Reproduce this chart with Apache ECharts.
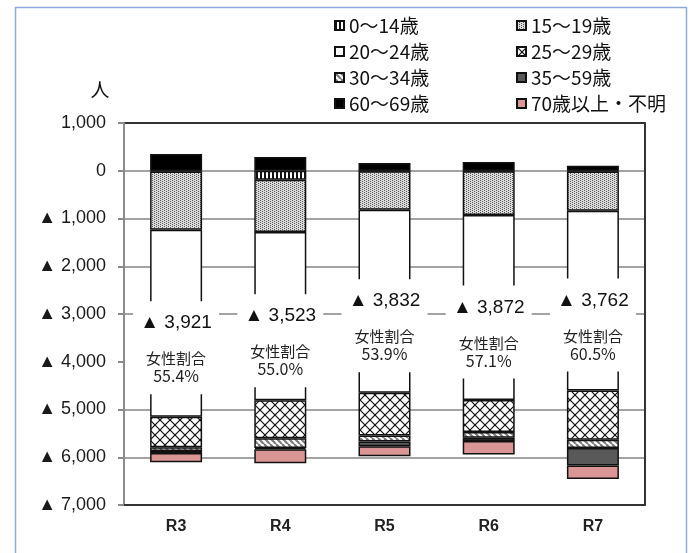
<!DOCTYPE html>
<html>
<head>
<meta charset="utf-8">
<script src="https://cdn.jsdelivr.net/npm/echarts@6/dist/echarts.min.js"></script>
<style>
html, body { margin: 0; padding: 0; background: #fff; }
#chart { width: 694px; height: 553px; }
</style>
</head>
<body>
<div id="chart"></div>
<script>
// Fiscal years and counts per age group (negative = decrease, shown with ▲)
const years = ['R3', 'R4', 'R5', 'R6', 'R7'];
const age0to14 = [-15, -190, -10, -10, -15];
const age15to19 = [-1218, -1095, -807, -918, -823];
const age20to24 = [-3921, -3523, -3832, -3872, -3762];
const age25to29 = [-636, -796, -894, -670, -1033];
const age30to34 = [-80, -200, -126, -120, -175];
const age35to59 = [-40, -30, -100, -70, -363];
const age60to69 = [350, 287, 160, 182, 105];
const age70plus = [-195, -293, -210, -280, -287];
const femaleRatio = [55.4, 55.0, 53.9, 57.1, 60.5];
const axisMin = -7000, axisMax = 1000, axisStep = 1000;

const seriesNames = ['0～14歳', '15～19歳', '20～24歳', '25～29歳', '30～34歳', '35～59歳', '60～69歳', '70歳以上・不明'];

const fmt = n => String(Math.round(n)).replace(/\B(?=(\d{3})+(?!\d))/g, ',');
const signed = v => v < 0 ? '▲ ' + fmt(-v) : fmt(v);

// small repeating fills for the hatched groups
function tile(w, h, draw, bg) {
  const c = document.createElement('canvas');
  c.width = w; c.height = h;
  const ctx = c.getContext('2d');
  ctx.fillStyle = bg || '#fff';
  ctx.fillRect(0, 0, w, h);
  draw(ctx, w, h);
  return { image: c, repeat: 'repeat' };
}
const fillStripesV = tile(4, 4, (ctx, w, h) => { ctx.fillStyle = '#111'; ctx.fillRect(0, 0, 2, h); });
const fillDots = tile(4, 4, ctx => {
  ctx.fillStyle = '#555';
  [[0, 0], [2, 1], [0, 2], [2, 3]].forEach(([x, y]) => ctx.fillRect(x, y, 1, 1));
}, '#dcdcdc');
const fillCross = tile(10, 10, (ctx, w) => {
  ctx.strokeStyle = '#111'; ctx.lineWidth = 1.2;
  [-w, 0, w].forEach(o => {
    ctx.beginPath(); ctx.moveTo(o, 0); ctx.lineTo(o + w, w); ctx.stroke();
    ctx.beginPath(); ctx.moveTo(o + w, 0); ctx.lineTo(o, w); ctx.stroke();
  });
});
const fillDiag = tile(6, 6, (ctx, w) => {
  ctx.strokeStyle = '#7a7a7a'; ctx.lineWidth = 2.2;
  [-w, 0, w].forEach(o => { ctx.beginPath(); ctx.moveTo(o, 0); ctx.lineTo(o + w, w); ctx.stroke(); });
});

const fills = [fillStripesV, fillDots, '#ffffff', fillCross, fillDiag, '#595959', '#000000', '#d99694'];
const values = [age0to14, age15to19, age20to24, age25to29, age30to34, age35to59, age60to69, age70plus];

const jp = "'Noto Sans CJK JP', sans-serif";
const latin = "'Liberation Sans', 'Noto Sans CJK JP', sans-serif";

// one white boxed text line of the given height; the white border closes seams
const boxed = (h, extra) => Object.assign({
  width: 92, height: h, lineHeight: h, align: 'center',
  backgroundColor: '#fff', borderColor: '#fff', borderWidth: 1,
  color: '#222', fontFamily: jp
}, extra);

const series = seriesNames.map((name, k) => {
  const s = {
    name, type: 'bar', stack: 'total', barWidth: 52,
    data: values[k],
    itemStyle: { color: fills[k], borderColor: '#111', borderWidth: 1.5 },
    emphasis: { disabled: true }
  };
  if (k === 2) {
    // value of the 20-24 group plus the female share underneath, on a white box
    s.label = {
      show: true, position: 'inside', verticalAlign: 'top', offset: [0, -21],
      formatter: p => [
        `{v|${signed(p.value)}}`,
        '{gap| }',
        '{h|女性割合}',
        `{p|${femaleRatio[p.dataIndex].toFixed(1)}%}`,
        '{tail| }'
      ].join('\n'),
      rich: {
        v: boxed(42, { fontSize: 19, width: 84, color: '#111', fontFamily: latin }),
        gap: boxed(6, { fontSize: 6 }),
        h: boxed(17, { fontSize: 15 }),
        p: boxed(18, { fontSize: 16 }),
        tail: boxed(8, { fontSize: 6 })
      }
    };
  }
  return s;
});

const gridGray = '#a3a3a3';
const splitColors = [];
for (let v = axisMin; v <= axisMax; v += axisStep) {
  if (v === axisMin || v === axisMax) splitColors.push('#333');
  else if (v === -4000) splitColors.push('rgba(0,0,0,0)');
  else splitColors.push(gridGray);
}

const legendBase = {
  orient: 'vertical', top: 11, itemWidth: 9, itemHeight: 9, itemGap: 7, icon: 'rect',
  selectedMode: false, textStyle: { fontSize: 19, color: '#111', fontFamily: jp }
};

const chart = echarts.init(document.getElementById('chart'), null, { renderer: 'canvas' });
chart.setOption({
  animation: false,
  textStyle: { fontFamily: latin },
  grid: { left: 124, right: 49, top: 123, bottom: 48 },
  legend: [
    Object.assign({}, legendBase, { left: 329, data: [seriesNames[0], seriesNames[2], seriesNames[4], seriesNames[6]] }),
    Object.assign({}, legendBase, { left: 511, data: [seriesNames[1], seriesNames[3], seriesNames[5], seriesNames[7]] })
  ],
  xAxis: [{
    type: 'category', data: years, position: 'bottom',
    axisLine: { show: true, onZero: false, lineStyle: { color: '#333', width: 2 } },
    axisTick: { show: false },
    axisLabel: { margin: 14, fontSize: 16, fontWeight: 'bold', color: '#222' }
  }],
  yAxis: [{
    type: 'value', min: axisMin, max: axisMax, interval: axisStep,
    name: '人', nameLocation: 'end', nameGap: 24,
    nameTextStyle: { fontSize: 19, color: '#111', fontFamily: jp, padding: [0, 48, 0, 0] },
    axisLine: { show: true, lineStyle: { color: '#8c8c8c', width: 2 } },
    axisTick: { show: true, length: 6, lineStyle: { color: '#8c8c8c', width: 2 } },
    axisLabel: { margin: 18, fontSize: 18, color: '#1a1a1a', formatter: signed },
    splitLine: { show: true, lineStyle: { color: splitColors, width: 2 } }
  }, {
    type: 'value', min: axisMin, max: axisMax, interval: axisStep, position: 'right',
    axisLine: { show: true, lineStyle: { color: '#333', width: 2 } },
    axisTick: { show: false }, axisLabel: { show: false }, splitLine: { show: false }
  }],
  series,
  graphic: [{
    type: 'rect', left: 13, top: 5, silent: true,
    shape: { width: 671, height: 600 },
    style: { fill: null, stroke: '#8faadc', lineWidth: 1.5 }
  }]
});
</script>
</body>
</html>
